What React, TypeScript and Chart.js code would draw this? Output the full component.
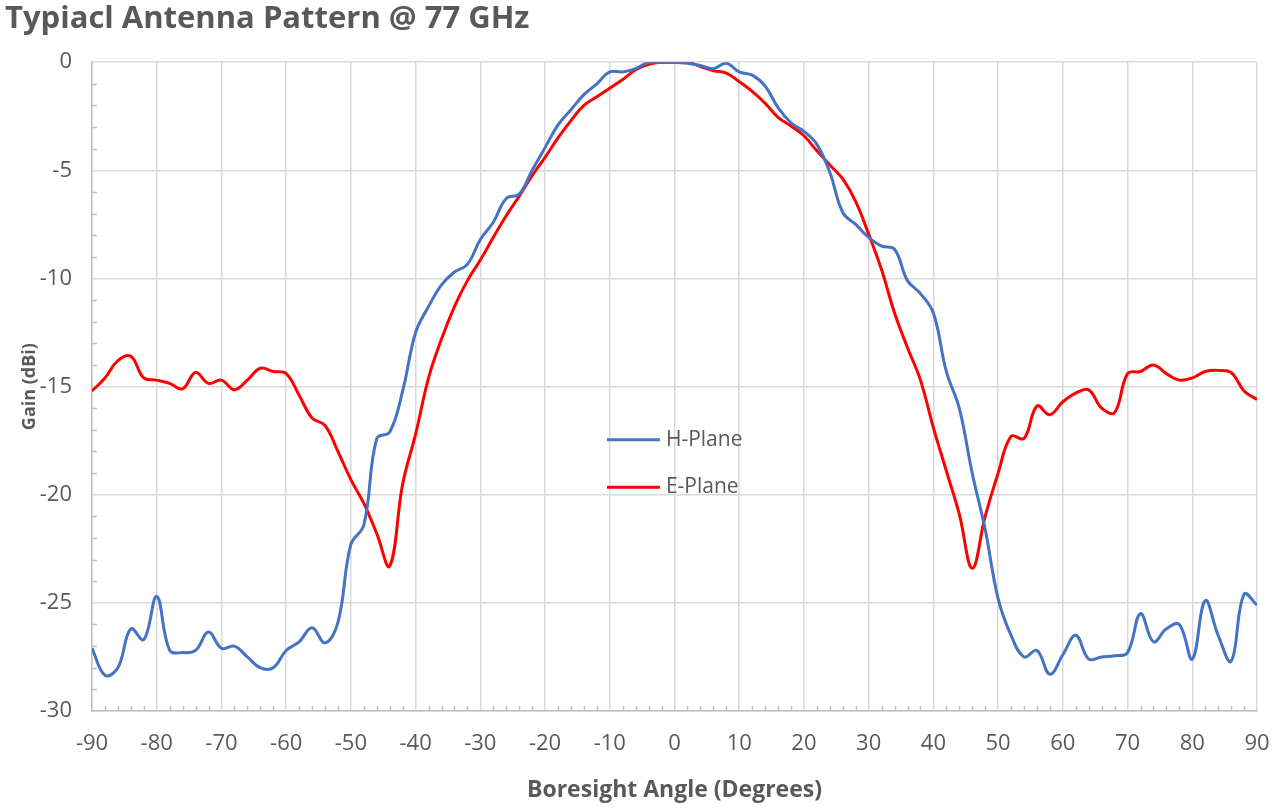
import React, { useEffect, useRef } from "react";
import { Chart, registerables } from "chart.js";

Chart.register(...registerables);

const TITLE = "Typiacl Antenna Pattern @ 77 GHz";
const X_TITLE = "Boresight Angle (Degrees)";
const Y_TITLE = "Gain (dBi)";
const SERIES_NAMES = ["H-Plane", "E-Plane"];
const SERIES_COLORS = ["#4472C4", "#FF0000"];

const angles = [
  -90, -88, -86, -84, -82, -80, -78, -76, -74, -72, -70, -68, -66, -64, -62, -60,
  -58, -56, -54, -52, -50, -48, -46, -44, -42, -40, -38, -36, -34, -32, -30, -28,
  -26, -24, -22, -20, -18, -16, -14, -12, -10, -8, -6, -4, -2, 0, 2, 4, 6, 8, 10,
  12, 14, 16, 18, 20, 22, 24, 26, 28, 30, 32, 34, 36, 38, 40, 42, 44, 46, 48, 50,
  52, 54, 56, 58, 60, 62, 64, 66, 68, 70, 72, 74, 76, 78, 80, 82, 84, 86, 88, 90,
];

const hPlane = [
  -27.1, -28.35, -28.0, -26.2, -26.7, -24.7, -27.2, -27.3, -27.2, -26.35, -27.1, -27.0,
  -27.5, -28.0, -28.0, -27.2, -26.8, -26.15, -26.85, -25.9, -22.3, -21.4, -17.4, -17.1,
  -15.2, -12.5, -11.3, -10.3, -9.7, -9.35, -8.2, -7.4, -6.3, -6.1, -5.0, -3.95, -2.9,
  -2.2, -1.5, -1.0, -0.45, -0.45, -0.3, 0, 0, 0, -0.05, -0.15, -0.3, -0.05, -0.45, -0.6,
  -1.1, -2.1, -2.8, -3.2, -3.8, -5.1, -6.95, -7.5, -8.1, -8.5, -8.65, -10.1, -10.7,
  -11.6, -14.3, -16.0, -19.0, -21.6, -24.8, -26.5, -27.5, -27.2, -28.3, -27.4, -26.5,
  -27.6, -27.5, -27.45, -27.3, -25.5, -26.8, -26.2, -26.0, -27.6, -24.9, -26.5, -27.7,
  -24.6, -25.1,
];

const ePlane = [
  -15.2, -14.6, -13.8, -13.6, -14.6, -14.7, -14.85, -15.1, -14.35, -14.85, -14.7, -15.15,
  -14.7, -14.15, -14.3, -14.4, -15.4, -16.45, -16.8, -18.0, -19.3, -20.4, -21.8, -23.3,
  -19.5, -17.2, -14.6, -12.8, -11.3, -10.1, -9.15, -8.1, -7.1, -6.2, -5.25, -4.4, -3.5,
  -2.7, -2.0, -1.6, -1.2, -0.8, -0.35, -0.1, 0, 0, 0, -0.2, -0.4, -0.5, -0.9, -1.35,
  -1.9, -2.55, -2.95, -3.4, -4.1, -4.75, -5.4, -6.45, -7.95, -9.6, -11.6, -13.2, -14.7,
  -16.9, -18.9, -20.9, -23.4, -21.0, -19.0, -17.3, -17.4, -15.9, -16.3, -15.7, -15.3,
  -15.15, -16.0, -16.2, -14.4, -14.3, -14.0, -14.4, -14.7, -14.6, -14.3, -14.25, -14.35,
  -15.2, -15.6,
];

const FONT = "'Open Sans', Lato, 'Liberation Sans', sans-serif";
const TEXT_COLOR = "#595959";

const minorTicksPlugin = {
  id: "minorTicks",
  beforeDatasetsDraw(chart: any) {
    const { ctx, chartArea, scales } = chart;
    const x = scales.x;
    const y = scales.y;
    ctx.save();
    ctx.strokeStyle = "#bfbfbf";
    ctx.lineWidth = 1.5;
    ctx.beginPath();
    for (let v = y.min; v <= y.max; v += 1) {
      if (v % 5 === 0) continue;
      const py = Math.round(y.getPixelForValue(v)) + 0.5;
      ctx.moveTo(chartArea.left, py);
      ctx.lineTo(chartArea.left + 5, py);
    }
    for (let v = x.min; v <= x.max; v += 2) {
      if (v % 10 === 0) continue;
      const px = Math.round(x.getPixelForValue(v)) + 0.5;
      ctx.moveTo(px, chartArea.bottom);
      ctx.lineTo(px, chartArea.bottom - 5);
    }
    ctx.stroke();
    ctx.restore();
  },
};

const legendPlugin = {
  id: "innerLegend",
  afterDraw(chart: any) {
    const { ctx, chartArea } = chart;
    const w = chartArea.right - chartArea.left;
    const h = chartArea.bottom - chartArea.top;
    const lx = chartArea.left + w * 0.442;
    const rows = [0.582, 0.655];
    ctx.save();
    chart.data.datasets.forEach((ds: any, i: number) => {
      const py = chartArea.top + h * rows[i];
      ctx.strokeStyle = ds.borderColor;
      ctx.lineWidth = 3;
      ctx.beginPath();
      ctx.moveTo(lx, py);
      ctx.lineTo(lx + 53, py);
      ctx.stroke();
      ctx.fillStyle = TEXT_COLOR;
      ctx.font = `21px ${FONT}`;
      ctx.textBaseline = "middle";
      ctx.textAlign = "left";
      ctx.fillText(ds.label, lx + 59, py);
    });
    ctx.restore();
  },
};

export default function App() {
  const canvasRef = useRef<HTMLCanvasElement | null>(null);

  useEffect(() => {
    if (!canvasRef.current) return;
    const toPoints = (vals: number[]) => angles.map((a, i) => ({ x: a, y: vals[i] }));
    const chart = new Chart(canvasRef.current, {
      type: "line",
      data: {
        datasets: [
          {
            label: SERIES_NAMES[0],
            data: toPoints(hPlane),
            borderColor: SERIES_COLORS[0],
            backgroundColor: SERIES_COLORS[0],
            borderWidth: 3,
            pointRadius: 0,
            tension: 0.4,
          },
          {
            label: SERIES_NAMES[1],
            data: toPoints(ePlane),
            borderColor: SERIES_COLORS[1],
            backgroundColor: SERIES_COLORS[1],
            borderWidth: 3,
            pointRadius: 0,
            tension: 0.4,
          },
        ],
      },
      options: {
        animation: false,
        responsive: true,
        maintainAspectRatio: false,
        layout: { padding: { left: 5, right: 23, top: 0, bottom: 0 } },
        plugins: {
          legend: { display: false },
          tooltip: { enabled: false },
          title: {
            display: true,
            text: TITLE,
            align: "start",
            color: TEXT_COLOR,
            font: { family: FONT, size: 31, weight: "bold" },
            padding: { top: 1, bottom: 24 },
          },
        },
        scales: {
          x: {
            type: "linear",
            min: -90,
            max: 90,
            afterFit: (s: any) => {
              s.height = 100;
              s.paddingLeft = 0;
              s.paddingRight = 0;
            },
            ticks: {
              stepSize: 10,
              autoSkip: false,
              maxRotation: 0,
              color: TEXT_COLOR,
              font: { family: FONT, size: 22 },
              padding: 20,
            },
            grid: { color: "#d9d9d9", lineWidth: 1.5, drawTicks: false },
            border: { color: "#bfbfbf", width: 1.5 },
            title: {
              display: true,
              text: X_TITLE,
              color: TEXT_COLOR,
              font: { family: FONT, size: 23, weight: "bold" },
              padding: { top: 0, bottom: 7 },
            },
          },
          y: {
            type: "linear",
            min: -30,
            max: 0,
            afterFit: (s: any) => {
              s.width = 87;
            },
            ticks: {
              stepSize: 5,
              color: TEXT_COLOR,
              font: { family: FONT, size: 22 },
              padding: 20,
            },
            grid: { color: "#d9d9d9", lineWidth: 1.5, drawTicks: false },
            border: { color: "#bfbfbf", width: 1.5 },
            title: {
              display: true,
              text: Y_TITLE,
              color: TEXT_COLOR,
              font: { family: FONT, size: 18, weight: "bold" },
              padding: { top: 14, bottom: 0 },
            },
          },
        },
      },
      plugins: [minorTicksPlugin, legendPlugin],
    });
    return () => chart.destroy();
  }, []);

  return (
    <div style={{ position: "absolute", left: 0, top: 0, width: 1280, height: 811, background: "#fff" }}>
      <canvas ref={canvasRef} />
    </div>
  );
}
